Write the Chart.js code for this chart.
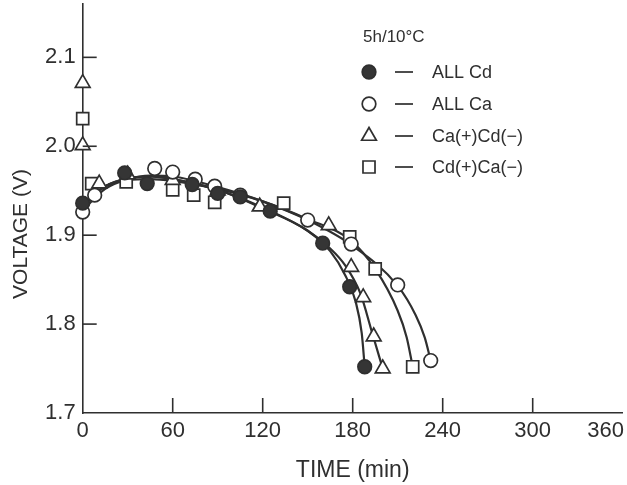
<!DOCTYPE html>
<html>
<head>
<meta charset="utf-8">
<script src="https://cdn.jsdelivr.net/npm/chart.js@4"></script>
<style>
  html, body { margin: 0; padding: 0; background: #fff; }
  #wrap { width: 627px; height: 485px; }
</style>
</head>
<body>
<div id="wrap"><canvas id="chart" width="627" height="485"></canvas></div>
<script>
// tick labels
const xTicks = [0, 60, 120, 180, 240, 300, 360];
const yTicks = [1.7, 1.8, 1.9, 2.0, 2.1];

// measured points (time in min, voltage in V)
const cdTime = [0, 28, 43, 73, 90, 105, 125, 160, 178, 188];
const cdVolt = [1.936, 1.970, 1.958, 1.957, 1.947, 1.943, 1.927, 1.891, 1.842, 1.752];

const caTime = [0, 8, 48, 60, 75, 88, 105, 150, 179, 210, 232];
const caVolt = [1.926, 1.945, 1.975, 1.971, 1.963, 1.955, 1.945, 1.917, 1.890, 1.844, 1.759];

const caCdTime = [0, 0, 11, 30, 60, 90, 118, 164, 179, 187, 194, 200];
const caCdVolt = [2.071, 2.001, 1.958, 1.968, 1.962, 1.950, 1.932, 1.911, 1.864, 1.830, 1.786, 1.750];

const cdCaTime = [0, 6, 29, 60, 74, 88, 134, 178, 195, 220];
const cdCaVolt = [2.031, 1.958, 1.960, 1.951, 1.945, 1.937, 1.936, 1.898, 1.862, 1.752];

// fitted curves as drawn in the figure
const cdCurveT = [0, 15, 30, 45, 60, 90, 120, 150, 165, 175, 182, 186, 188];
const cdCurveV = [1.933, 1.955, 1.964, 1.966, 1.963, 1.951, 1.930, 1.905, 1.882, 1.855, 1.825, 1.790, 1.752];

const caCurveT = [0, 15, 30, 45, 60, 90, 120, 150, 180, 210, 222, 228, 232];
const caCurveV = [1.928, 1.952, 1.963, 1.967, 1.966, 1.954, 1.938, 1.917, 1.888, 1.843, 1.810, 1.785, 1.759];

const caCdCurveT = [0, 15, 30, 45, 60, 90, 120, 150, 165, 175, 185, 193, 200];
const caCdCurveV = [1.935, 1.955, 1.964, 1.966, 1.963, 1.951, 1.931, 1.905, 1.885, 1.866, 1.835, 1.790, 1.750];

const cdCaCurveT = [0, 15, 30, 45, 60, 90, 120, 150, 178, 195, 210, 216, 220];
const cdCaCurveV = [1.935, 1.955, 1.962, 1.963, 1.961, 1.952, 1.938, 1.918, 1.895, 1.862, 1.815, 1.785, 1.752];

const legendTitle = '5h/10°C';
const seriesNames = ['ALL Cd', 'ALL Ca', 'Ca(+)Cd(−)', 'Cd(+)Ca(−)'];

const ink = '#2f2f2f';
const fontFam = '"Liberation Sans", Arial, sans-serif';

function pts(t, v) {
    return t.map((x, i) => ({ x: x, y: v[i] }));
}

function curve(t, v) {
    return {
        data: pts(t, v),
        showLine: true,
        borderColor: ink,
        borderWidth: 2.2,
        pointRadius: 0,
        cubicInterpolationMode: 'monotone',
        fill: false,
        order: 2
    };
}

function markers(t, v, style, radius, filled) {
    return {
        data: pts(t, v),
        showLine: false,
        pointStyle: style,
        pointRadius: radius,
        pointBorderWidth: 1.7,
        pointBorderColor: ink,
        pointBackgroundColor: filled ? '#353535' : '#ffffff',
        order: 1
    };
}

const legendMarks = [
    { style: 'circle', radius: 6.8, filled: true },
    { style: 'circle', radius: 6.8, filled: false },
    { style: 'triangle', radius: 8.5, filled: false },
    { style: 'rect', radius: 8.5, filled: false }
];

const decorPlugin = {
    id: 'decor',
    afterDraw(chart) {
        const ctx = chart.ctx;
        const xs = chart.scales.x;
        const ys = chart.scales.y;
        const area = chart.chartArea;
        ctx.save();
        ctx.strokeStyle = ink;
        ctx.lineWidth = 1.6;

        // inward tick marks
        yTicks.slice(1).forEach(v => {
            const y = ys.getPixelForValue(v);
            ctx.beginPath();
            ctx.moveTo(area.left, y);
            ctx.lineTo(area.left + 14, y);
            ctx.stroke();
        });
        xTicks.slice(1, -1).forEach(v => {
            const x = xs.getPixelForValue(v);
            ctx.beginPath();
            ctx.moveTo(x, area.bottom);
            ctx.lineTo(x, area.bottom - 15);
            ctx.stroke();
        });

        // x tick labels, last one kept inside the canvas
        ctx.fillStyle = ink;
        ctx.font = '22px ' + fontFam;
        ctx.textBaseline = 'middle';
        xTicks.forEach(v => {
            let x = xs.getPixelForValue(v);
            const w = ctx.measureText(String(v)).width;
            ctx.textAlign = 'center';
            if (x + w / 2 > chart.width - 3) {
                ctx.textAlign = 'right';
                x = chart.width - 3;
            }
            ctx.fillText(String(v), x, area.bottom + 18);
        });

        // y title
        ctx.save();
        ctx.translate(21, 234);
        ctx.rotate(-Math.PI / 2);
        ctx.textAlign = 'center';
        ctx.font = '21px ' + fontFam;
        ctx.fillText('VOLTAGE (V)', 0, 0);
        ctx.restore();

        // legend
        ctx.font = '17px ' + fontFam;
        ctx.textAlign = 'left';
        ctx.fillText(legendTitle, 363, 37);
        const rows = [72, 104, 136, 167];
        ctx.font = '18px ' + fontFam;
        rows.forEach((y, i) => {
            const m = legendMarks[i];
            ctx.fillStyle = m.filled ? '#353535' : '#ffffff';
            ctx.strokeStyle = ink;
            ctx.lineWidth = 1.7;
            Chart.helpers.drawPoint(ctx, { pointStyle: m.style, radius: m.radius, rotation: 0, borderWidth: 1.7 }, 369, y);
            ctx.beginPath();
            ctx.moveTo(395, y);
            ctx.lineTo(413, y);
            ctx.stroke();
            ctx.fillStyle = ink;
            ctx.fillText(seriesNames[i], 432, y + 1);
        });
        ctx.restore();
    }
};

new Chart(document.getElementById('chart').getContext('2d'), {
    type: 'scatter',
    data: {
        datasets: [
            curve(cdCurveT, cdCurveV),
            curve(caCurveT, caCurveV),
            curve(caCdCurveT, caCdCurveV),
            curve(cdCaCurveT, cdCaCurveV),
            markers(cdTime, cdVolt, 'circle', 6.8, true),
            markers(caTime, caVolt, 'circle', 6.8, false),
            markers(caCdTime, caCdVolt, 'triangle', 8.5, false),
            markers(cdCaTime, cdCaVolt, 'rect', 8.5, false)
        ]
    },
    options: {
        responsive: false,
        animation: false,
        clip: false,
        layout: { autoPadding: false, padding: { top: 4, right: 4.3, left: 0, bottom: 0 } },
        plugins: { legend: { display: false }, tooltip: { enabled: false } },
        scales: {
            x: {
                type: 'linear',
                min: 0,
                max: 360,
                grid: { display: false, drawTicks: false },
                border: { display: true, color: ink, width: 1.6 },
                ticks: { display: false },
                title: {
                    display: true,
                    text: 'TIME (min)',
                    color: ink,
                    font: { family: fontFam, size: 23 },
                    padding: { top: 0, bottom: 1 }
                },
                afterFit: s => { s.height = 72; s.paddingLeft = 0; s.paddingRight = 0; }
            },
            y: {
                type: 'linear',
                min: 1.7,
                max: 2.16,
                grid: { display: false, drawTicks: false },
                border: { display: true, color: ink, width: 1.6 },
                afterBuildTicks: s => { s.ticks = yTicks.map(v => ({ value: v })); },
                ticks: {
                    color: ink,
                    padding: 7,
                    font: { family: fontFam, size: 22 },
                    callback: v => v.toFixed(1)
                },
                afterFit: s => { s.width = 82.7; s.paddingTop = 0; s.paddingBottom = 0; }
            }
        }
    },
    plugins: [decorPlugin]
});
</script>
</body>
</html>
